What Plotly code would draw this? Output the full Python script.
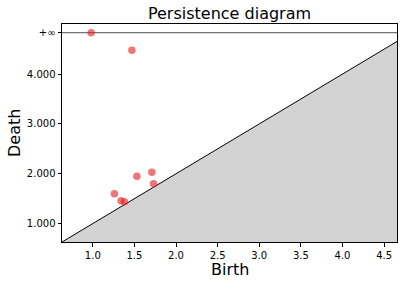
import plotly.graph_objects as go

# Persistence pairs (birth, death); None death = infinite
births = [0.98, 1.47, 1.26, 1.34, 1.38, 1.53, 1.71, 1.73]
deaths = [None, 4.48, 1.60, 1.46, 1.44, 1.95, 2.03, 1.80]
ytick_vals = [1.0, 2.0, 3.0, 4.0]
ytick_text = ["1.000", "2.000", "3.000", "4.000"]
xtick_vals = [1.0, 1.5, 2.0, 2.5, 3.0, 3.5, 4.0, 4.5]

finite_d = [d for d in deaths if d is not None]
min_birth = min(births)
max_death = max(finite_d)
delta = 0.1 * (max_death - min_birth)
axis_start = min_birth - delta
axis_end = max_death + delta / 2
infinity = max_death + delta
y_top = infinity + delta / 2

pts_y = [infinity if d is None else d for d in deaths]

fig = go.Figure()
# shaded region under diagonal
fig.add_trace(go.Scatter(x=[axis_start, axis_end], y=[axis_start, axis_end],
                         mode="lines", line=dict(color="black", width=1),
                         fill="tozeroy", fillcolor="#d3d3d3", hoverinfo="skip",
                         showlegend=False))
# infinity line
fig.add_trace(go.Scatter(x=[axis_start, axis_end], y=[infinity, infinity],
                         mode="lines", line=dict(color="rgba(0,0,0,0.7)", width=1),
                         showlegend=False))
# points
fig.add_trace(go.Scatter(x=births, y=pts_y, mode="markers",
                         marker=dict(color="rgba(228,26,28,0.6)", size=7.5, line=dict(width=0)),
                         showlegend=False))

axis_common = dict(showgrid=False, zeroline=False, showline=True, linecolor="black",
                   linewidth=1, mirror=True, ticks="outside", ticklen=3.5,
                   tickcolor="black", tickwidth=1, automargin=False,
                   tickfont=dict(family="DejaVu Sans", size=10, color="black"))

W, H = 403, 285
fig.update_layout(
    width=W, height=H,
    margin=dict(l=62, r=6, t=24, b=43),
    plot_bgcolor="white", paper_bgcolor="white",
    title=dict(text="Persistence diagram", x=(62 + (W - 6)) / 2 / W, xanchor="center",
               yref="container", y=1 - 13 / H, yanchor="middle",
               font=dict(family="DejaVu Sans", size=16, color="black")),
    xaxis=dict(range=[axis_start, axis_end], tickvals=xtick_vals,
               ticktext=[f"{v:.1f}" for v in xtick_vals], **axis_common),
    yaxis=dict(range=[axis_start, y_top], tickvals=ytick_vals + [infinity],
               ticktext=ytick_text + ["+\u221e"], **axis_common),
    annotations=[
        dict(text="Birth", xref="paper", yref="paper", x=0.5, y=-27 / 218,
             xanchor="center", yanchor="middle", showarrow=False,
             font=dict(family="DejaVu Sans", size=16, color="black")),
        dict(text="Death", xref="paper", yref="paper", x=-48 / 335, y=0.5,
             xanchor="center", yanchor="middle", textangle=-90, showarrow=False,
             font=dict(family="DejaVu Sans", size=16, color="black")),
    ],
)

fig.write_html("out.html", config={"displayModeBar": False},
               post_script="document.body.style.margin='0px';document.body.style.overflow='hidden';")
